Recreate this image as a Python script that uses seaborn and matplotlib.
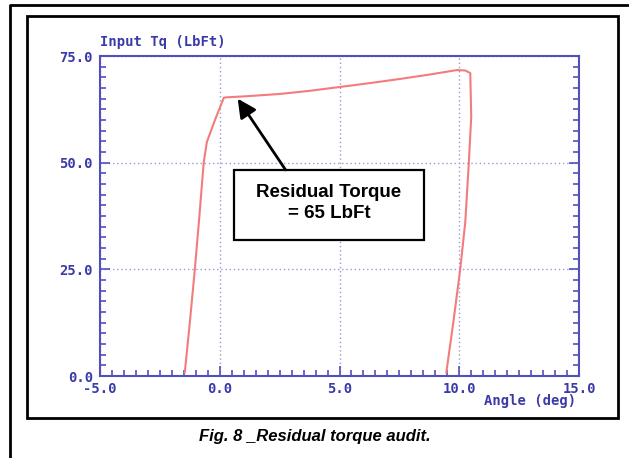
import numpy as np
import pandas as pd
import seaborn as sns
import matplotlib.pyplot as plt
from matplotlib.patches import Rectangle
from matplotlib.lines import Line2D
from matplotlib.ticker import MultipleLocator
from matplotlib.transforms import ScaledTranslation

# --- DATA ---
angle = [-1.46, -1.25, -1.04, -0.85, -0.67, -0.54, -0.2, 0.17, 0.25, 1.2, 2.5,
         3.7, 4.96, 6.2, 7.5, 8.7, 9.9, 10.25, 10.46, 10.5, 10.4, 10.25, 10.04, 9.75, 9.46]
torque = [0.8, 12.5, 25.0, 37.5, 50.0, 54.8, 60.0, 65.2, 65.3, 65.6, 66.1,
          66.8, 67.7, 68.6, 69.6, 70.6, 71.7, 71.6, 71.0, 60.7, 50.0, 36.0, 25.0, 12.5, 0.8]

x_ticks = [-5, 0, 5, 10, 15]
y_ticks = [0, 25, 50, 75]
x_labels = ["-5.0", "0.0", "5.0", "10.0", "15.0"]
y_labels = ["0.0", "25.0", "50.0", "75.0"]

annotation_text = "Residual Torque\n= 65 LbFt"
caption = "Fig. 8 _Residual torque audit."

# colours
LINE_RED = "#f27c7c"
AXIS_BLUE = "#5050bc"
TEXT_BLUE = "#3a3aa8"
GRID_BLUE = "#9a9ad8"

sns.set_style("white")
plt.rcParams['font.family'] = ['DejaVu Sans']
plt.rcParams['text.color'] = 'black'

fig = plt.figure(figsize=(6.29, 4.58), dpi=100)
ax = fig.add_axes([100 / 629, 82 / 458, 479 / 629, 320 / 458])

df = pd.DataFrame({"Angle": angle, "Torque": torque})
sns.lineplot(data=df, x="Angle", y="Torque", sort=False, estimator=None,
             color=LINE_RED, lw=1.5, ax=ax)

ax.set_xlim(-5, 15)
ax.set_ylim(0, 75)
ax.set_xticks(x_ticks)
ax.set_xticklabels(x_labels)
ax.set_yticks(y_ticks)
ax.set_yticklabels(y_labels)
ax.xaxis.set_minor_locator(MultipleLocator(0.5))
ax.yaxis.set_minor_locator(MultipleLocator(2.5))
ax.set_xlabel("")
ax.set_ylabel("")

mono = dict(family="DejaVu Sans Mono", weight="bold", size=10)
for lbl in ax.get_xticklabels() + ax.get_yticklabels():
    lbl.set_fontproperties(mono)
    lbl.set_color(TEXT_BLUE)
for lbl in ax.get_yticklabels():
    lbl.set_transform(lbl.get_transform() + ScaledTranslation(0, 4 / 100, fig.dpi_scale_trans))

ax.tick_params(axis="x", which="both", direction="in", bottom=True, top=False,
               color=AXIS_BLUE, width=1.2, pad=4)
ax.tick_params(axis="y", which="both", direction="in", left=True, right=True,
               color=AXIS_BLUE, width=1.2, pad=5)
ax.tick_params(which="major", length=7)
ax.tick_params(which="minor", length=4)

for sp in ax.spines.values():
    sp.set_color(AXIS_BLUE)
    sp.set_linewidth(1.5)
    sp.set_visible(True)

ax.grid(True, which="major", color=GRID_BLUE, linestyle=(0, (1, 2)), lw=1)

ax.annotate("Input Tq (LbFt)", xy=(0, 1), xycoords="axes fraction",
            xytext=(0, 7), textcoords="offset points", ha="left", va="baseline",
            color=TEXT_BLUE, **mono)
ax.annotate("Angle (deg)", xy=(1, 0), xycoords="axes fraction",
            xytext=(-2, -21), textcoords="offset points", ha="right", va="baseline",
            color=TEXT_BLUE, **mono)

# callout box + arrow
ax.add_patch(Rectangle((0.58, 31.9), 7.96, 16.4, fill=True, facecolor="white",
                       edgecolor="black", lw=1.6, zorder=5))
ax.text(4.56, 40.6, annotation_text, ha="center", va="center", fontsize=13.5,
        fontweight="bold", family="Liberation Sans", linespacing=1.3,
        color="black", zorder=6)
ax.annotate("", xy=(0.75, 65.0), xytext=(2.75, 48.3),
            arrowprops=dict(arrowstyle="-|>", lw=2, color="black", mutation_scale=28,
                            shrinkA=0, shrinkB=0), zorder=6)

# page frames
fig.add_artist(Line2D([10 / 629, 10 / 629, 1.0], [0.0, 1 - 5 / 458, 1 - 5 / 458],
                      transform=fig.transFigure, color="black", lw=2))
fig.add_artist(Rectangle((27 / 629, 1 - 418 / 458), 591 / 629, 402 / 458,
                         transform=fig.transFigure, fill=False, edgecolor="black", lw=2))

fig.text(315 / 629, 1 - 437 / 458, caption, ha="center", va="center", fontsize=12,
         fontweight="bold", style="italic", family="Liberation Sans", color="black")

fig.savefig("out.png", dpi=100)
